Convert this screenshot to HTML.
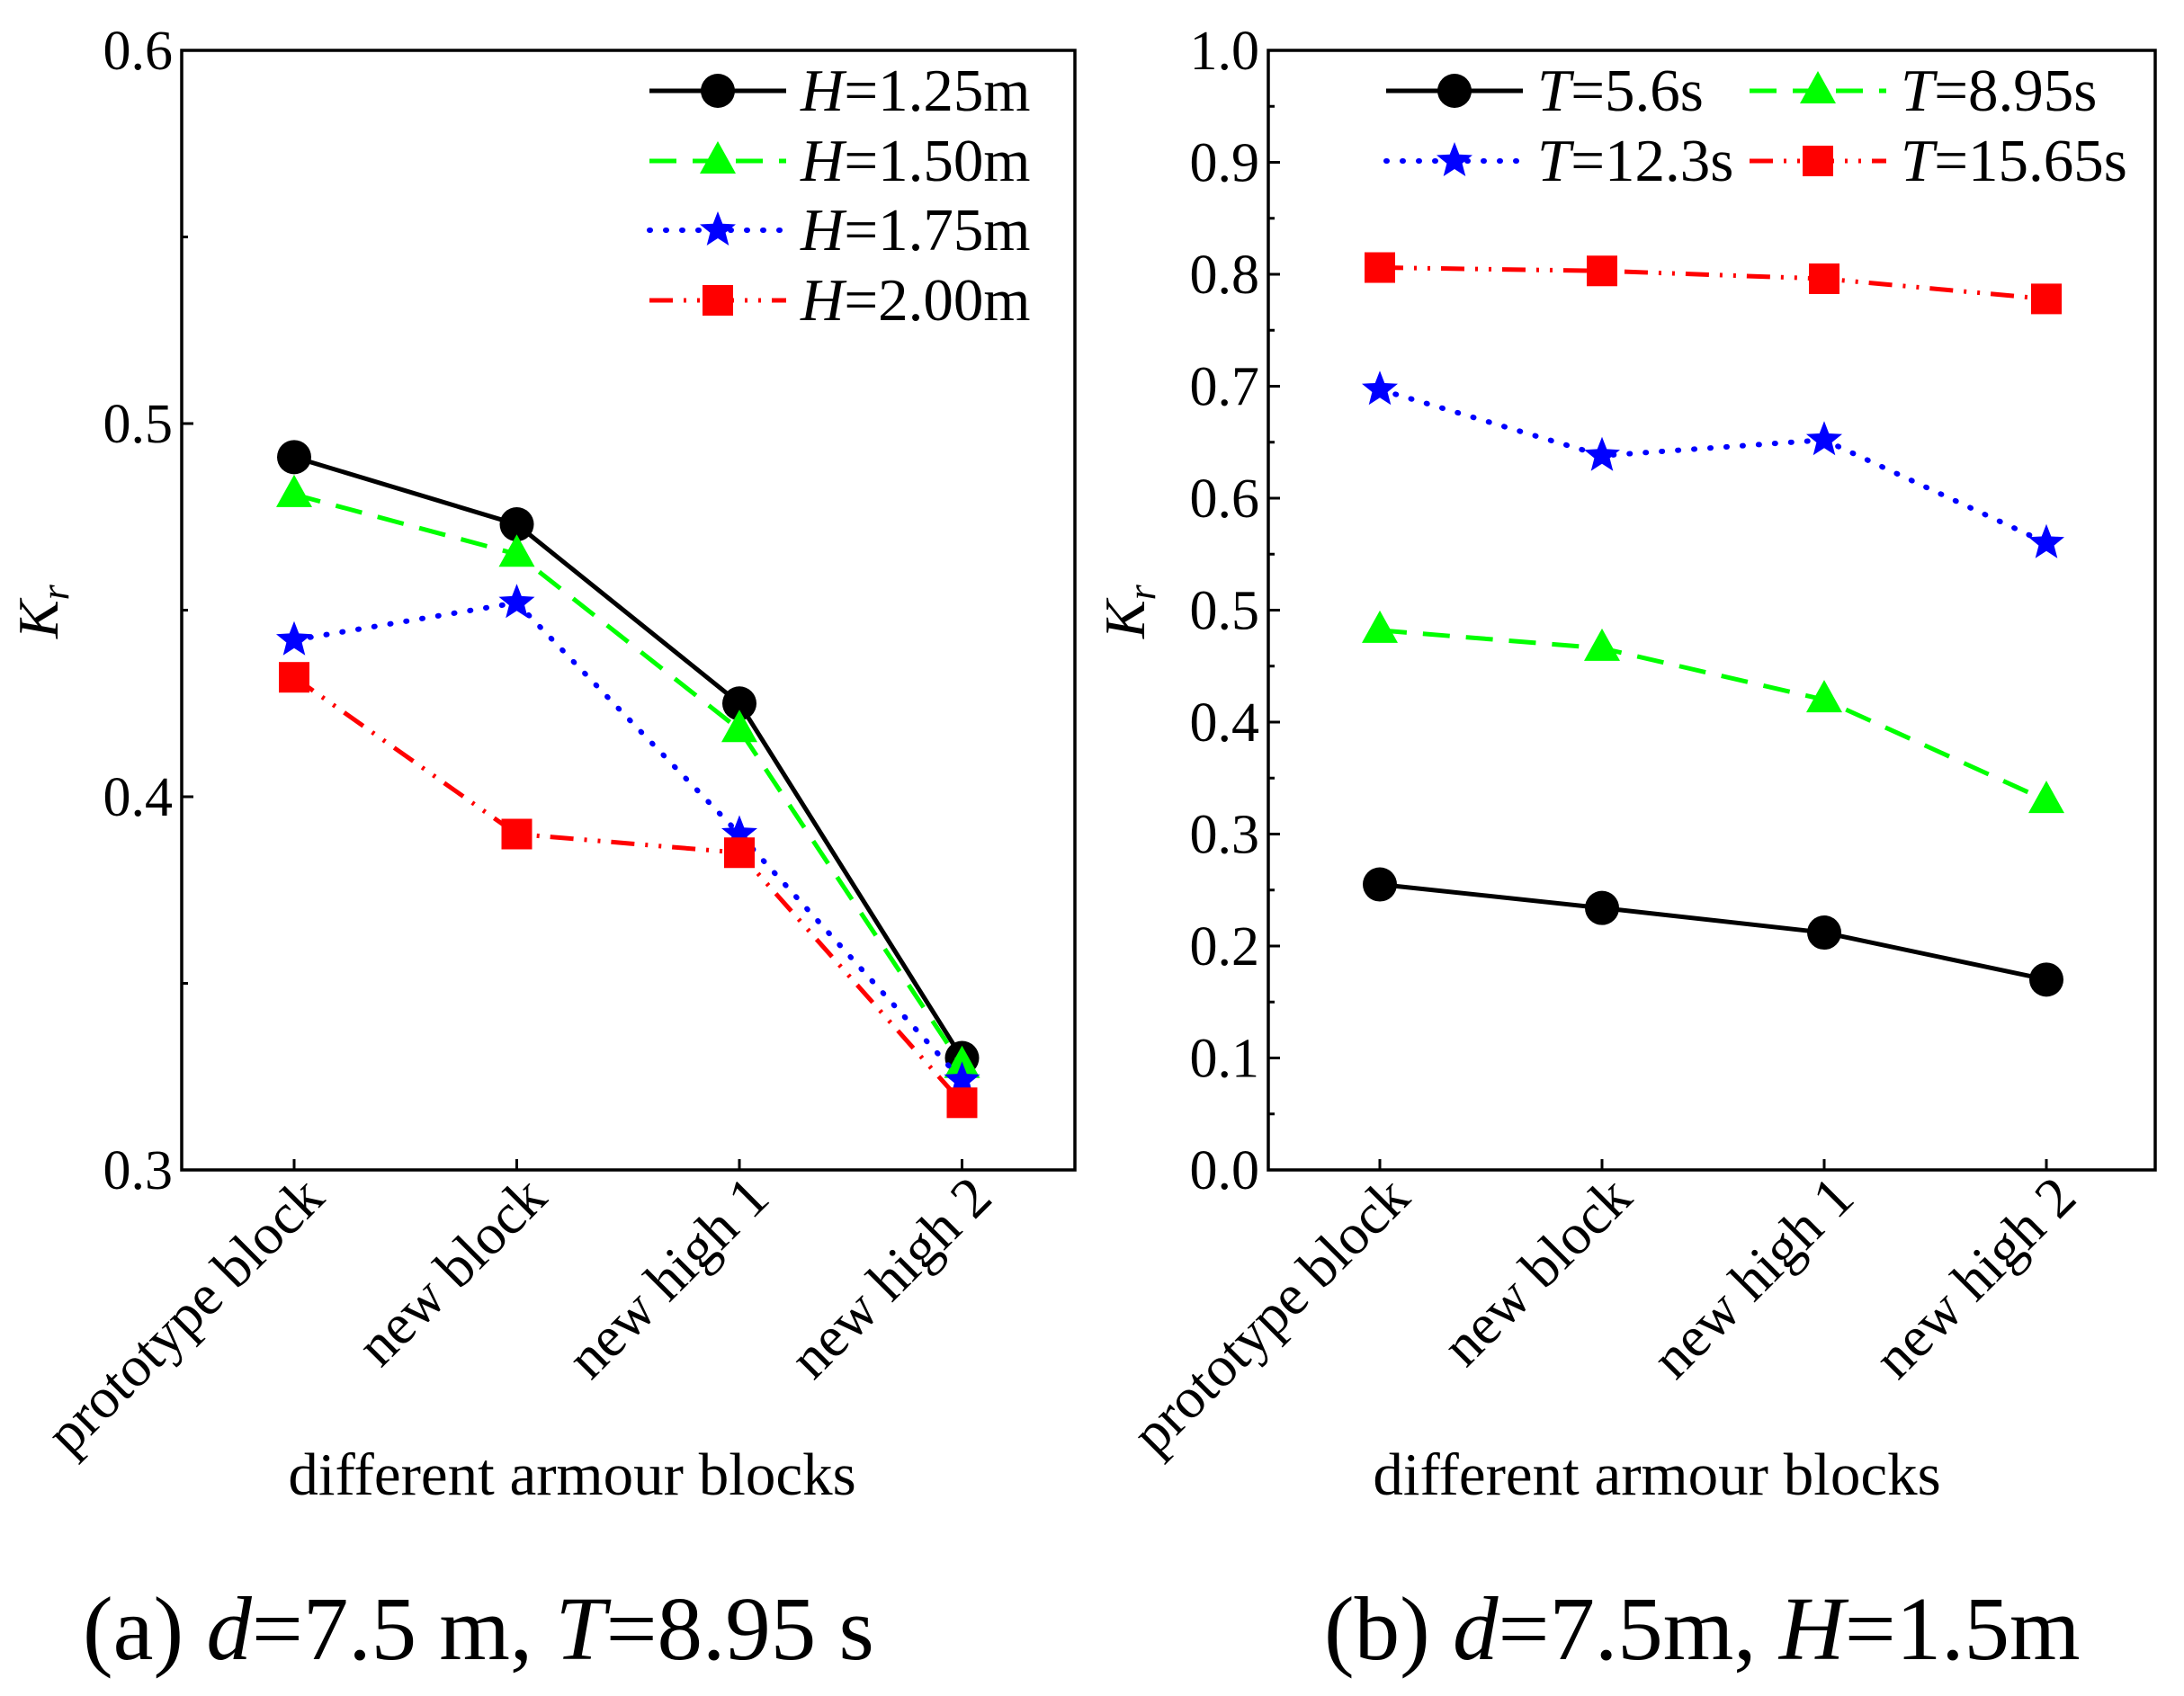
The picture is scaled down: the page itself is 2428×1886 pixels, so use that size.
<!DOCTYPE html>
<html><head><meta charset="utf-8"><style>
html,body{margin:0;padding:0;background:#fff;}
svg{display:block;}
svg text{font-family:"Liberation Serif","DejaVu Serif",serif;}
</style></head><body>
<svg id="fig" width="2428" height="1886" viewBox="0 0 2428 1886" xmlns="http://www.w3.org/2000/svg">
<rect width="2428" height="1886" fill="#fff"/>
<g id="pa"></g>
<g id="pb"></g>
</svg>
<script>
const categories = ["prototype block","new block","new high 1","new high 2"];
// panel a
const aNames = ["1.25m","1.50m","1.75m","2.00m"];
const aH125 = [0.491,0.473,0.425,0.330];
const aH150 = [0.481,0.465,0.418,0.328];
const aH175 = [0.442,0.452,0.390,0.324];
const aH200 = [0.432,0.390,0.385,0.318];
const aTicks = ["0.3","0.4","0.5","0.6"];
// panel b
const bNames = ["5.6s","8.95s","12.3s","15.65s"];
const bT56 = [0.255,0.234,0.212,0.170];
const bT895 = [0.482,0.466,0.420,0.330];
const bT123 = [0.697,0.638,0.652,0.560];
const bT1565 = [0.806,0.803,0.796,0.778];
const bTicks = ["0.0","0.1","0.2","0.3","0.4","0.5","0.6","0.7","0.8","0.9","1.0"];

const NS="http://www.w3.org/2000/svg";
function mk(parent,tag,attrs,text){const e=document.createElementNS(NS,tag);for(const k in attrs)e.setAttribute(k,attrs[k]);if(text!==undefined)e.textContent=text;parent.appendChild(e);return e;}
const styles=[
 {color:"#000",dash:"",marker:"circle",w:5},
 {color:"#00ff00",dash:"30,18",marker:"tri",w:5},
 {color:"#0000ff",dash:"1,17",marker:"star",w:6},
 {color:"#ff0000",dash:"26,12,3,12,3,12",marker:"square",w:5}];
function marker(g,type,x,y,color){
  let e;
  if(type==="circle"){e=mk(g,"circle",{cx:x,cy:y,r:19,fill:color});}
  else if(type==="square"){e=mk(g,"rect",{x:x-17,y:y-17,width:34,height:34,fill:color});}
  else if(type==="tri"){e=mk(g,"polygon",{points:`${x},${y-22} ${x-20},${y+14} ${x+20},${y+14}`,fill:color});}
  else {let p=[];for(let i=0;i<10;i++){const r=i%2?9:21;const a=-Math.PI/2+i*Math.PI/5;p.push((x+r*Math.cos(a)).toFixed(1)+","+(y+r*Math.sin(a)).toFixed(1));}
    e=mk(g,"polygon",{points:p.join(" "),fill:color});}
  
  
}
function panel(g,cfg){
  const L=cfg.L,R=cfg.R,T=56,B=1301;
  const ys=v=>B-(v-cfg.ymin)/(cfg.ymax-cfg.ymin)*(B-T);
  const xs=i=>cfg.cx0+i*cfg.dx;
  const nMaj=cfg.ticks.length;
  for(let i=0;i<nMaj;i++){
    const v=parseFloat(cfg.ticks[i]);const y=ys(v);
    mk(g,"line",{x1:L,x2:L+13,y1:y,y2:y,stroke:"#000","stroke-width":3});
    const t=mk(g,"text",{x:L-10,y:y+21,"text-anchor":"end","font-size":62},cfg.ticks[i]);
    
    
    if(i<nMaj-1){const ym=ys(v+cfg.step/2);mk(g,"line",{x1:L,x2:L+7,y1:ym,y2:ym,stroke:"#000","stroke-width":3});}
  }
  categories.forEach((c,i)=>{
    const x=xs(i);
    mk(g,"line",{x1:x,x2:x,y1:B,y2:B-12,stroke:"#000","stroke-width":3});
    const t=mk(g,"text",{x:0,y:0,"text-anchor":"end","font-size":64,transform:`translate(${x+36},${B+34}) rotate(-45)`},c);
    
    
  });
  const fr=mk(g,"rect",{x:L,y:T,width:R-L,height:B-T,fill:"none",stroke:"#000","stroke-width":3.5});
  
  
  const yl=mk(g,"text",{x:0,y:0,"font-size":64,"font-style":"italic",transform:`translate(${L-138},${710}) rotate(-90)`});
  
  
  mk(yl,"tspan",{},"K");mk(yl,"tspan",{"font-size":44,dy:12},"r");
  const xt=mk(g,"text",{x:cfg.xtx,y:1662,"text-anchor":"middle","font-size":67},"different armour blocks");
  
  
  cfg.series.forEach((s,k)=>{
    const st=styles[k];
    const sg=mk(g,"g",{});
    
    
    const pts=s.map((v,i)=>xs(i)+","+ys(v)).join(" ");
    mk(sg,"polyline",{points:pts,fill:"none",stroke:st.color,"stroke-width":st.w,"stroke-dasharray":st.dash,"stroke-linecap":st.marker==="star"?"round":"butt"});
    s.forEach((v,i)=>marker(sg,st.marker,xs(i),ys(v),st.color));
  });
  cfg.names.forEach((n,k)=>{
    const st=styles[k];const p=cfg.leg[k];
    const lg=mk(g,"g",{});
    
    
    mk(lg,"line",{x1:p[0],x2:p[0]+152,y1:p[1],y2:p[1],stroke:st.color,"stroke-width":st.w,"stroke-dasharray":st.dash,"stroke-linecap":st.marker==="star"?"round":"butt"});
    marker(lg,st.marker,p[0]+76,p[1],st.color);
    const t=mk(lg,"text",{x:p[0]+168,y:p[1]+22,"font-size":67});
    mk(t,"tspan",{"font-style":"italic"},cfg.var);mk(t,"tspan",{},"="+n);
  });
  const cap=mk(g,"text",{x:cfg.capx,y:1845,"font-size":101});
  
  
  cfg.cap.forEach(p=>mk(cap,"tspan",p[1]?{"font-style":"italic"}:{},p[0]));
}
panel(document.getElementById("pa"),{L:202,R:1195,cx0:327,dx:247.5,ymin:0.3,ymax:0.6,step:0.1,ticks:aTicks,
  series:[aH125,aH150,aH175,aH200],names:aNames,var:"H",xtx:636,
  leg:[[722,101],[722,179],[722,256],[722,334]],capx:92,
  cap:[["(a) "],["d",1],["=7.5 m, "],["T",1],["=8.95 s"]]});
panel(document.getElementById("pb"),{L:1410,R:2396,cx0:1534,dx:247,ymin:0,ymax:1.0,step:0.1,ticks:bTicks,
  series:[bT56,bT895,bT123,bT1565],names:bNames,var:"T",xtx:1842,
  leg:[[1541,101],[1945,101],[1541,179],[1945,179]],capx:1472,
  cap:[["(b) "],["d",1],["=7.5m, "],["H",1],["=1.5m"]]});
</script>
</body></html>
